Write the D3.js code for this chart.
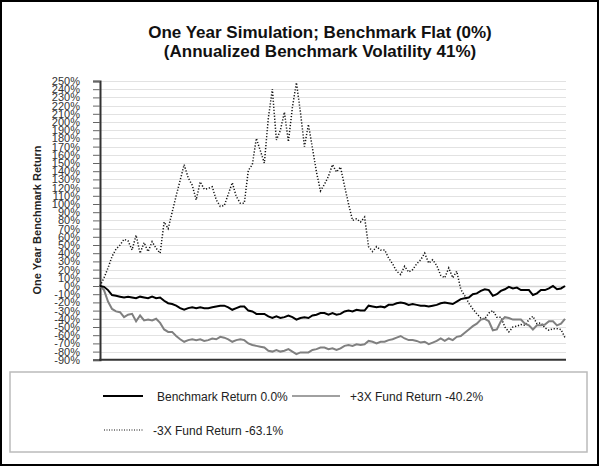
<!DOCTYPE html>
<html>
<head>
<meta charset="utf-8">
<script src="https://cdn.jsdelivr.net/npm/d3@7/dist/d3.min.js"></script>
<style>
  html, body { margin: 0; padding: 0; background: #fff; }
  svg { display: block; }
</style>
</head>
<body>
<svg id="chart" width="600" height="467"></svg>
<script>
// ---------- DATA ----------
const titleLines = ["One Year Simulation; Benchmark Flat (0%)", "(Annualized Benchmark Volatility 41%)"];
const yAxisTitle = "One Year Benchmark Return";
const yTicks = [-90,-80,-70,-60,-50,-40,-30,-20,-10,0,10,20,30,40,50,60,70,80,90,100,110,120,130,140,150,160,170,180,190,200,210,220,230,240,250];

const benchmark = [0,-1,-5,-11,-12,-13,-14,-13,-14,-15,-13,-14,-15,-13,-15,-14,-18,-21,-22,-24,
  -27,-29,-27,-26,-27,-26,-27,-27,-26,-25,-24,-24,-26,-29,-27,-25,-25,-30,-31,-34,
  -34,-34,-37,-39,-37,-39,-38,-36,-38,-41,-39,-38,-39,-36,-35,-33,-33,-35,-33,-35,
  -34,-31,-30,-31,-29,-30,-30,-24,-25,-26,-25,-26,-23,-23,-21,-20,-21,-23,-22,-23,
  -24,-24,-25,-24,-23,-21,-20,-21,-22,-19,-16,-15,-14,-10,-9,-6,-4,-5,-12,-10,
  -6,-4,-1,-3,-2,-5,-5,-5,-11,-9,-5,-5,-3,0,-4,-3,0];

const plus3x = [0,-5,-19,-28,-31,-32,-38,-35,-34,-43,-36,-42,-41,-42,-40,-45,-53,-56,-56,-61,
  -65,-68,-66,-65,-66,-65,-67,-66,-64,-65,-62,-63,-65,-68,-66,-65,-66,-70,-72,-73,
  -74,-75,-79,-80,-78,-80,-79,-77,-80,-83,-81,-81,-81,-78,-77,-75,-75,-77,-76,-78,
  -76,-73,-72,-73,-71,-72,-71,-67,-68,-70,-68,-68,-66,-65,-63,-61,-64,-66,-66,-67,
  -69,-68,-71,-69,-67,-64,-67,-64,-66,-62,-61,-57,-53,-49,-46,-41,-40,-43,-54,-53,
  -43,-38,-39,-41,-41,-41,-46,-48,-53,-48,-48,-47,-43,-43,-48,-46,-40];

const minus3x = [0,10,22,36,45,50,57,55,44,62,40,53,42,54,46,40,78,70,90,110,
  129,148,132,123,105,127,118,119,121,105,97,98,112,126,109,101,101,141,148,180,
  165,150,205,240,178,190,212,176,218,248,212,170,197,168,139,116,124,134,148,139,
  145,122,100,80,82,78,84,48,42,48,44,44,34,27,18,14,24,17,20,27,
  32,40,28,32,25,13,10,22,10,18,-4,-12,-21,-28,-34,-39,-40,-33,-30,-38,
  -38,-50,-56,-50,-49,-47,-48,-41,-37,-46,-45,-51,-54,-52,-52,-53,-63];

const seriesNames = ["Benchmark Return 0.0%", "+3X Fund Return -40.2%", "-3X Fund Return -63.1%"];

// ---------- DRAW ----------
const svg = d3.select("#chart");
const FONT = "Liberation Sans, Arial, Helvetica, sans-serif";

// outer frame
svg.append("rect").attr("x", 1).attr("y", 1).attr("width", 597).attr("height", 464)
  .attr("fill", "#fff").attr("stroke", "#000").attr("stroke-width", 2);

const x = d3.scaleLinear().domain([0, benchmark.length - 1]).range([100, 565]);
const y = d3.scaleLinear().domain([-90, 250]).range([359.8, 81]);
const plotLeft = 100, plotRight = 566;

// gridlines
svg.append("g").selectAll("line").data(yTicks.filter(d => d !== -90)).join("line")
  .attr("x1", plotLeft).attr("x2", plotRight)
  .attr("y1", d => Math.round(y(d)) + 0.5).attr("y2", d => Math.round(y(d)) + 0.5)
  .attr("stroke", d => d === 0 ? "#d4d4d4" : "#e2e2e2")
  .attr("stroke-width", d => d === 0 ? 1.6 : 1);

// y axis via d3
const yAxis = d3.axisLeft(y).tickValues(yTicks).tickSize(7).tickPadding(13)
  .tickFormat(d => d + "%");
const gy = svg.append("g").attr("transform", `translate(${plotLeft},0)`).call(yAxis);
gy.select(".domain").attr("stroke", "#333").attr("stroke-width", 2);
gy.selectAll(".tick line").attr("stroke", "#666").attr("stroke-width", 1);
gy.selectAll(".tick text").attr("font-family", FONT).attr("font-size", 11).attr("fill", "#333");

// bottom axis line
svg.append("line").attr("x1", plotLeft - 1).attr("x2", plotRight)
  .attr("y1", y(-90)).attr("y2", y(-90)).attr("stroke", "#333").attr("stroke-width", 2);

// lines
const line = d3.line().x((d, i) => x(i)).y(d => y(d));
svg.append("path").datum(minus3x).attr("d", line).attr("fill", "none")
  .attr("stroke", "#111").attr("stroke-width", 1.5).attr("stroke-dasharray", "1.2,1.8");
svg.append("path").datum(plus3x).attr("d", line).attr("fill", "none")
  .attr("stroke", "#808080").attr("stroke-width", 2);
svg.append("path").datum(benchmark).attr("d", line).attr("fill", "none")
  .attr("stroke", "#000").attr("stroke-width", 2);

// title
svg.append("text").attr("x", 320).attr("y", 38).attr("text-anchor", "middle")
  .attr("font-family", FONT).attr("font-size", 17).attr("font-weight", "bold").attr("fill", "#111")
  .text(titleLines[0]);
svg.append("text").attr("x", 320).attr("y", 56.5).attr("text-anchor", "middle")
  .attr("font-family", FONT).attr("font-size", 17).attr("font-weight", "bold").attr("fill", "#111")
  .text(titleLines[1]);

// y axis title
svg.append("text").attr("transform", "translate(41,220) rotate(-90)").attr("text-anchor", "middle")
  .attr("font-family", FONT).attr("font-size", 11).attr("font-weight", "bold").attr("fill", "#222")
  .text(yAxisTitle);

// legend
svg.append("rect").attr("x", 10).attr("y", 372).attr("width", 577).attr("height", 80)
  .attr("fill", "#fff").attr("stroke", "#bbb").attr("stroke-width", 1.5);
const legendItems = [
  {name: seriesNames[0], x1: 103, x2: 143, ly: 396, tx: 157, stroke: "#000", w: 2, dash: null},
  {name: seriesNames[1], x1: 292, x2: 340, ly: 396, tx: 350, stroke: "#808080", w: 1.5, dash: null},
  {name: seriesNames[2], x1: 104, x2: 143, ly: 430, tx: 153, stroke: "#111", w: 1.2, dash: "1,1.5"}
];
const lg = svg.append("g").selectAll("g").data(legendItems).join("g");
lg.append("line").attr("x1", d => d.x1).attr("x2", d => d.x2).attr("y1", d => d.ly).attr("y2", d => d.ly)
  .attr("stroke", d => d.stroke).attr("stroke-width", d => d.w).attr("stroke-dasharray", d => d.dash);
lg.append("text").attr("x", d => d.tx).attr("y", d => d.ly + 4.5)
  .attr("font-family", FONT).attr("font-size", 12).attr("fill", "#222").text(d => d.name);
</script>
</body>
</html>
